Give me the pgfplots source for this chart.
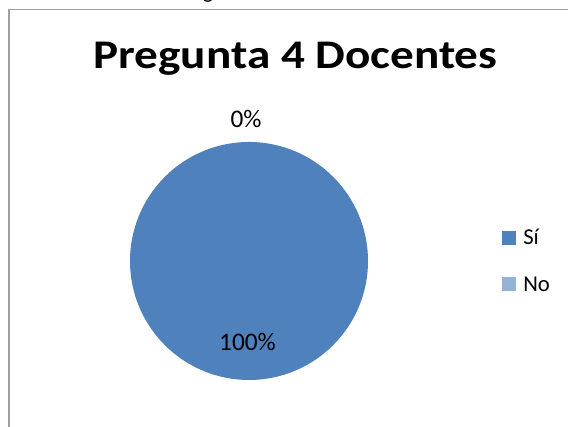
\documentclass[border=0pt]{standalone}
\usepackage{pgfplots}
\pgfplotsset{compat=1.18}
\usepackage{pgfplotstable}
\usepackage{fontspec}
\setmainfont{Carlito}
\newfontfamily\titlefont[FakeStretch=1.16]{Carlito}
\definecolor{siblue}{HTML}{4F81BD}
\definecolor{nolight}{HTML}{95B3D7}
\definecolor{framegray}{HTML}{A0A0A0}
\pgfplotstableread{
label value
Si 100
No 0
}\piedata
\begin{document}
\begin{tikzpicture}
\useasboundingbox (0,0) rectangle (426pt,320.25pt);
\pgfplotstablegetelem{0}{value}\of\piedata \let\vSi\pgfplotsretval
\pgfplotstablegetelem{1}{value}\of\piedata \let\vNo\pgfplotsretval
\begin{axis}[at={(0,0)}, anchor=south west, scale only axis,
  width=426pt, height=320.25pt, xmin=0, xmax=568, ymin=0, ymax=427,
  hide axis, clip=false]
% frame
\draw[framegray, line width=0.9pt] (axis cs:9,-5) -- (axis cs:9,417.5) -- (axis cs:568,417.5);
% cut text above
\node[anchor=base, font=\fontsize{16.5pt}{20pt}\selectfont] at (axis cs:208,428.5) {g};
% title
\node[anchor=base, font=\titlefont\fontsize{30.5pt}{36pt}\selectfont\bfseries] at (axis cs:295.5,358) {Pregunta 4 Docentes};
% pie: slices start at 12 o'clock, clockwise
\pgfmathsetmacro{\aSi}{3.6*\vSi}
\pgfmathsetmacro{\aNo}{3.6*\vNo}
\fill[siblue] (axis cs:249,166) -- ++(90:89.25pt) arc[start angle=90, end angle={90-\aSi}, radius=89.25pt] -- cycle;
% data labels
\node[anchor=base, font=\fontsize{19pt}{22pt}\selectfont] at (axis cs:246,299) {0\%};
\node[anchor=base, font=\fontsize{19pt}{22pt}\selectfont] at (axis cs:247.5,76) {100\%};
% legend
\fill[siblue] (axis cs:502,196) rectangle (axis cs:516,182);
\node[anchor=base west, inner sep=0pt, font=\fontsize{17pt}{20pt}\selectfont] at (axis cs:523,182) {Sí};
\fill[nolight] (axis cs:502,149.5) rectangle (axis cs:516,135.5);
\node[anchor=base west, inner sep=0pt, font=\fontsize{17pt}{20pt}\selectfont] at (axis cs:523,135) {No};
\end{axis}
\end{tikzpicture}
\end{document}
